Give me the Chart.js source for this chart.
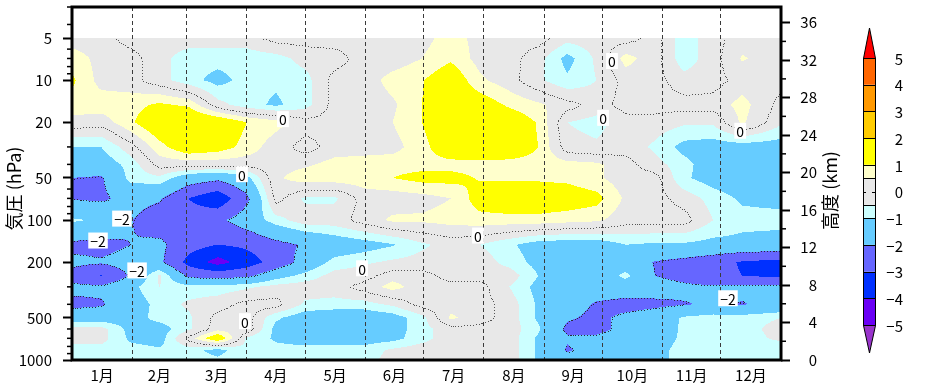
<!DOCTYPE html>
<html>
<head>
<meta charset="utf-8">
<script src="https://cdn.jsdelivr.net/npm/chart.js@4.4.0/dist/chart.umd.min.js"></script>
<style>
html,body{margin:0;padding:0;background:#fff;}
</style>
</head>
<body>
<canvas id="chart" width="933" height="390"></canvas>
<script>
// x axis: day of year, one node every ~half month
const MONTHS = ["1月","2月","3月","4月","5月","6月","7月","8月","9月","10月","11月","12月"]
const MONTH_MID = [15.5,45,74.5,105,135.5,166,196.5,227.5,258,288.5,319,349.5]
const MONTH_EDGE = [31,59,90,120,151,181,212,243,273,304,334]
const DAYS = [0,15,30,45,60,75,90,105,120,135,150,165,180,195,210,225,240,255,270,285,300,315,330,345,365]

// pressure levels (hPa), bottom to top
const PRESSURE = [1000,850,700,600,500,400,300,250,200,150,100,70,50,40,30,20,15,10,7,5]

// anomaly rows, one per pressure level, one value per day node
const p1000 = [-0.6,-0.6,-0.7,-0.8,-0.7,-0.9,-0.6,-0.7,-0.7,-0.7,-0.7,-0.3,-0.2,-0.2,-0.2,-0.2,-1.1,-1.6,-1.5,-1.4,-1.2,-0.8,-0.8,-0.8,-0.8]
const p850 = [-0.7,-0.7,-0.8,-0.9,-0.8,-1.2,-0.6,-0.8,-0.8,-0.8,-0.8,-0.4,-0.2,-0.2,-0.2,-0.2,-1.1,-2.1,-1.6,-1.5,-1.2,-0.8,-0.8,-0.8,-0.8]
const p700 = [-0.3,-0.3,-1.1,-1.3,0.2,1.6,-0.6,-1.1,-1.3,-1.3,-1.3,-1.2,-0.7,-0.2,-0.2,-0.2,-1.1,-1.9,-1.8,-1.5,-1.3,-0.9,-0.8,-0.7,-0.4]
const p600 = [-0.3,-0.3,-1.2,-1.3,-0.6,0.3,0.3,-1.2,-1.4,-1.5,-1.5,-1.3,-0.7,-0.2,-0.2,-0.2,-0.9,-2.2,-2.3,-1.7,-1.4,-0.9,-0.8,-0.7,-0.3]
const p500 = [-1.5,-1.4,-1.3,-0.8,-0.6,0.2,0.2,-0.9,-1.4,-1.5,-1.5,-1.3,-0.7,0.6,0.2,-0.2,-1.1,-1.9,-2.2,-1.8,-1.5,-0.9,-0.7,-0.7,-0.5]
const p400 = [-2.2,-2.1,-1.4,-0.8,-0.4,-0.2,0.2,0.2,-0.6,-0.7,-0.7,-0.4,0.2,0.3,0.2,-0.2,-1.1,-1.6,-2.1,-2.3,-2.2,-2.05,-1.9,-2.05,-1.7]
const p300 = [-1.8,-1.8,-1.2,-0.5,-0.8,-0.8,-0.6,-0.3,-0.2,-0.2,0.2,0.7,0.2,0.2,0.2,-0.5,-1.2,-1.4,-1.5,-1.5,-1.6,-1.8,-1.9,-1.8,-1.7]
const p250 = [-2.3,-3.05,-1.9,-0.4,-2.2,-2.3,-2.2,-1.3,-0.8,-0.3,-0.2,0.3,0.2,-0.2,-0.2,-0.2,-1.0,-1.5,-1.6,-0.8,-2.0,-2.3,-2.7,-3.0,-3.2]
const p200 = [-1.8,-1.9,-1.6,-1.8,-3.3,-4.4,-3.5,-2.6,-1.6,-0.8,-0.6,-0.4,-0.3,-0.2,-0.2,-0.7,-1.2,-1.3,-1.5,-1.5,-2.05,-2.3,-2.6,-3.1,-3.3]
const p150 = [-2.2,-2.3,-2.0,-1.8,-2.6,-3.0,-2.8,-2.3,-1.9,-1.5,-1.3,-1.05,-0.6,-0.3,-0.5,-0.9,-1.3,-1.4,-1.4,-1.0,-1.1,-1.1,-1.2,-1.2,-1.3]
const p100 = [-0.9,-1.1,-1.95,-2.5,-2.6,-2.2,-1.5,-0.7,-0.2,-0.2,0.2,0.6,0.6,0.7,0.8,0.8,0.8,0.7,0.6,0.2,0.2,0.2,-0.5,-0.8,-0.8]
const p70 = [-2.05,-2.15,-1.7,-1.9,-3.0,-3.7,-2.2,0.2,-0.6,-0.6,0.2,0.2,0.3,0.5,1.3,1.5,1.5,1.4,1.2,0.4,0.2,-0.2,-0.7,-1.1,-1.2]
const p50 = [-2.0,-2.1,-0.8,-0.6,-1.5,-1.8,-1.2,0.4,0.8,0.8,0.8,1.0,1.2,1.2,0.95,0.9,0.9,0.85,0.6,0.2,0.2,-0.9,-1.3,-1.5,-1.6]
const p40 = [-1.5,-1.4,-0.8,0.2,0.2,0.2,0.2,0.3,0.4,0.7,0.8,0.8,0.8,0.8,0.8,0.8,0.8,0.7,0.6,0.2,-0.3,-0.8,-1.4,-1.5,-1.5]
const p30 = [-1.0,-1.0,-0.2,0.8,1.5,1.3,0.8,0.2,-0.2,0.2,0.2,0.3,0.8,1.5,1.6,1.5,1.0,-0.3,-0.4,-0.2,-0.6,-1.2,-1.3,-1.3,-1.3]
const p20 = [0.3,0.2,0.9,1.6,1.8,1.6,1.0,0.7,0.2,0.2,0.2,0.5,1.0,1.6,1.7,1.5,0.95,-0.5,-0.7,-0.2,-0.2,-0.4,-0.4,0.6,-0.4]
const p15 = [0.8,0.8,0.8,1.1,0.9,-0.3,-0.8,-1.1,-0.7,0.2,0.2,0.4,1.0,1.5,1.4,0.9,0.6,0.2,-0.2,0.2,0.2,0.2,0.2,0.7,-0.2]
const p10 = [1.1,0.3,0.2,-0.3,-0.8,-1.2,-0.8,-0.9,-0.7,0.2,0.2,0.7,0.95,1.5,0.6,0.2,-0.4,-0.9,-0.5,0.2,0.2,-0.3,-0.2,0.2,0.2]
const p7 = [0.8,0.3,0.2,-0.3,-0.8,-0.8,-0.8,-0.7,-0.3,-0.2,0.2,0.2,0.5,0.9,0.3,0.2,-0.3,-1.2,-0.4,0.7,0.2,-0.8,-0.2,0.55,0.2]
const p5 = [0.2,0.2,-0.2,-0.2,-0.2,-0.2,-0.2,0.2,0.2,0.2,0.2,0.2,0.3,0.75,0.3,0.2,0.2,-0.3,-0.2,-0.2,0.2,-0.8,-0.2,0.3,0.2]

const FIELD = [p1000,p850,p700,p600,p500,p400,p300,p250,p200,p150,p100,p70,p50,p40,p30,p20,p15,p10,p7,p5]

// axis ticks
const P_TICKS = [5,10,20,50,100,200,500,1000]
const P_MINOR = [3,4,6,7,8,9,30,40,60,70,80,90,300,400,600,700,800,900]
const KM_TICKS = [0,4,8,12,16,20,24,28,32,36]
const KM_MINOR = [2,6,10,14,18,22,26,30,34]

// shading classes
const BOUNDS = [-5,-4,-3,-2,-1,-0.5,0.5,1,2,3,4,5]
const COLORS = ["#9933cc","#6a00f5","#0030ff","#6666ff","#66ccff","#ccffff","#e8e8e8","#ffffcc","#ffff00","#ffcc00","#ff9900","#ff6600","#ff0000"]
const CBAR_LABELS = [5,4,3,2,1,0,-1,-2,-3,-4,-5]

// dotted contour lines and their labels
const CONTOUR_LEVELS = [0,-2]
const CONTOUR_COLORS = ["#555555","#2a2a3a"]
const LABEL_DAY = [108.6,87.5,278,273.4,344,209,149.3,89,25.7,13.4,33.5,337.7]
const LABEL_HPA = [19,47,7.3,18.6,23,129,221,528,97.6,140,229,362]
const LABEL_TEXT = ["0","0","0","0","0","0","0","0","−2","−2","−2","−2"]

const FONT = "'Noto Sans CJK JP', 'Noto Sans', sans-serif"
Chart.defaults.font.family = FONT
Chart.defaults.color = "#000"

const RGB = COLORS.map(h => [parseInt(h.slice(1,3),16), parseInt(h.slice(3,5),16), parseInt(h.slice(5,7),16)])

function classOf(v){
let k = 0
while(k < BOUNDS.length && v >= BOUNDS[k]) k++
return k
}

function fieldAt(day, hpa){
let i = 0
while(i < DAYS.length-2 && day > DAYS[i+1]) i++
let tx = (day-DAYS[i])/(DAYS[i+1]-DAYS[i])
tx = Math.min(1, Math.max(0, tx))
let j = 0
while(j < PRESSURE.length-2 && hpa < PRESSURE[j+1]) j++
let ty = Math.log(PRESSURE[j]/hpa)/Math.log(PRESSURE[j]/PRESSURE[j+1])
ty = Math.min(1, Math.max(0, ty))
const r0 = FIELD[j], r1 = FIELD[j+1]
return (r0[i]*(1-tx) + r0[i+1]*tx)*(1-ty) + (r1[i]*(1-tx) + r1[i+1]*tx)*ty
}

function fixSize(w, h){
return s => {
if(w != null) s.width = w
if(h != null) s.height = h
s.paddingTop = 0; s.paddingBottom = 0; s.paddingLeft = 0; s.paddingRight = 0
}
}

const fieldPlugin = {
id: "field",

beforeDraw(chart){
const {ctx, chartArea: a, scales: {x, y}} = chart
const w = Math.round(a.right - a.left), h = Math.round(a.bottom - a.top)
const img = ctx.createImageData(w, h)
const days = []
for(let c = 0; c < w; c++) days.push(x.getValueForPixel(a.left + c + 0.5))
for(let r = 0; r < h; r++){
const p = y.getValueForPixel(a.top + r + 0.5)
if(p < PRESSURE[PRESSURE.length-1]) continue
for(let c = 0; c < w; c++){
const col = RGB[classOf(fieldAt(days[c], Math.min(p, 1000)))]
const k = (r*w + c)*4
img.data[k] = col[0]; img.data[k+1] = col[1]; img.data[k+2] = col[2]; img.data[k+3] = 255
}
}
const off = document.createElement("canvas")
off.width = w; off.height = h
off.getContext("2d").putImageData(img, 0, 0)
ctx.drawImage(off, a.left, a.top)
},

afterDraw(chart){
const {ctx, chartArea: a, scales: {x, y, y2}} = chart
ctx.save()

// dotted contours
const step = 3
const top = y.getPixelForValue(PRESSURE[PRESSURE.length-1])
const xs = [], ys = []
for(let px = a.left; px <= a.right; px += step) xs.push(px)
for(let py = top; py <= a.bottom; py += step) ys.push(py)
const grid = ys.map(py => {
const p = Math.min(1000, y.getValueForPixel(py))
return xs.map(px => fieldAt(x.getValueForPixel(px), p))
})
CONTOUR_LEVELS.forEach((lev, n) => {
ctx.fillStyle = CONTOUR_COLORS[n]
for(let r = 0; r < ys.length-1; r++){
for(let c = 0; c < xs.length-1; c++){
const pts = []
const edge = (va, vb, xa, ya, xb, yb) => {
if((va-lev)*(vb-lev) < 0){
const t = (lev-va)/(vb-va)
pts.push([xa+(xb-xa)*t, ya+(yb-ya)*t])
}
}
edge(grid[r][c], grid[r][c+1], xs[c], ys[r], xs[c+1], ys[r])
edge(grid[r+1][c], grid[r+1][c+1], xs[c], ys[r+1], xs[c+1], ys[r+1])
edge(grid[r][c], grid[r+1][c], xs[c], ys[r], xs[c], ys[r+1])
edge(grid[r][c+1], grid[r+1][c+1], xs[c+1], ys[r], xs[c+1], ys[r+1])
if(pts.length >= 2){
let mx = 0, my = 0
pts.forEach(p => { mx += p[0]; my += p[1] })
ctx.fillRect(Math.round(mx/pts.length), Math.round(my/pts.length), 1, 1)
}
}
}
})

// contour labels
ctx.font = "14px " + FONT
ctx.textAlign = "center"
ctx.textBaseline = "middle"
LABEL_TEXT.forEach((t, i) => {
const px = x.getPixelForValue(LABEL_DAY[i])
const py = y.getPixelForValue(LABEL_HPA[i])
const tw = ctx.measureText(t).width
ctx.fillStyle = "#fff"
ctx.fillRect(px - tw/2 - 2, py - 8, tw + 4, 16)
ctx.fillStyle = "#000"
ctx.fillText(t, px, py + 1)
})

// minor ticks
ctx.strokeStyle = "#000"
ctx.lineWidth = 1.5
P_MINOR.forEach(v => {
const py = y.getPixelForValue(v)
ctx.beginPath(); ctx.moveTo(a.left - 5, py); ctx.lineTo(a.left, py); ctx.stroke()
})
KM_MINOR.forEach(v => {
const py = y2.getPixelForValue(v)
ctx.beginPath(); ctx.moveTo(a.right, py); ctx.lineTo(a.right + 5, py); ctx.stroke()
})

// frame
ctx.lineWidth = 3
ctx.strokeRect(a.left, a.top, a.right - a.left, a.bottom - a.top)

// axis titles
ctx.fillStyle = "#000"
ctx.font = "18px " + FONT
ctx.textAlign = "center"
ctx.textBaseline = "middle"
ctx.save()
ctx.translate(a.left - 58, (a.top + a.bottom)/2 + 5)
ctx.rotate(-Math.PI/2)
ctx.fillText("気圧 (hPa)", 0, 0)
ctx.restore()
ctx.save()
ctx.translate(a.right + 49, (a.top + a.bottom)/2 + 7)
ctx.rotate(-Math.PI/2)
ctx.fillText("高度 (km)", 0, 0)
ctx.restore()

// colour bar
const cbx = a.right + 82, cbw = 12
const cbTop = a.top + 51, cbBot = a.bottom - 35
const vy = v => cbTop + (5 - v)/10*(cbBot - cbTop)
ctx.lineWidth = 1
ctx.strokeStyle = "#000"
for(let k = 0; k < BOUNDS.length-1; k++){
const y0 = vy(BOUNDS[k+1]), y1 = vy(BOUNDS[k])
ctx.fillStyle = COLORS[k+1]
ctx.fillRect(cbx, y0, cbw, y1 - y0)
ctx.strokeRect(cbx + 0.5, Math.round(y0) + 0.5, cbw, Math.round(y1) - Math.round(y0))
}
ctx.fillStyle = COLORS[COLORS.length-1]
ctx.beginPath(); ctx.moveTo(cbx + 0.5, cbTop + 0.5); ctx.lineTo(cbx + cbw + 0.5, cbTop + 0.5); ctx.lineTo(cbx + cbw/2 + 0.5, cbTop - 30); ctx.closePath(); ctx.fill(); ctx.stroke()
ctx.fillStyle = COLORS[0]
ctx.beginPath(); ctx.moveTo(cbx + 0.5, cbBot + 0.5); ctx.lineTo(cbx + cbw + 0.5, cbBot + 0.5); ctx.lineTo(cbx + cbw/2 + 0.5, cbBot + 28); ctx.closePath(); ctx.fill(); ctx.stroke()
ctx.font = "15px " + FONT
ctx.textAlign = "right"
ctx.fillStyle = "#000"
CBAR_LABELS.forEach(v => {
const py = vy(v)
ctx.beginPath()
ctx.moveTo(cbx, Math.round(py) + 0.5); ctx.lineTo(cbx + 3, Math.round(py) + 0.5)
ctx.moveTo(cbx + cbw - 3, Math.round(py) + 0.5); ctx.lineTo(cbx + cbw, Math.round(py) + 0.5)
ctx.stroke()
ctx.fillText(v < 0 ? "−" + Math.abs(v) : String(v), cbx + cbw + 28, py + 1)
})

ctx.restore()
}
}

const ctx = document.getElementById("chart").getContext("2d")

new Chart(ctx, {
type: "scatter",
data: { datasets: [] },
options: {
responsive: false,
animation: false,
events: [],
layout: { padding: { top: 7, right: 116, left: 0, bottom: 0 } },
plugins: { legend: { display: false }, tooltip: { enabled: false } },
scales: {
x: {
type: "linear", min: 0, max: 365, position: "bottom",
afterBuildTicks: s => { s.ticks = MONTH_MID.map(v => ({ value: v })) },
ticks: { callback: (v, i) => MONTHS[i], font: { size: 15 }, padding: 6, maxRotation: 0, autoSkip: false },
grid: { display: false, drawTicks: false },
border: { display: false },
afterFit: fixSize(null, 30)
},
xm: {
type: "linear", min: 0, max: 365, position: "top",
afterBuildTicks: s => { s.ticks = MONTH_EDGE.map(v => ({ value: v })) },
ticks: { display: false },
grid: { color: "#3a3a3a", lineWidth: 1, drawTicks: false },
border: { display: false, dash: [4, 3] },
afterFit: fixSize(null, 0)
},
y: {
type: "logarithmic", min: 3, max: 1000, reverse: true, position: "left",
afterBuildTicks: s => { s.ticks = P_TICKS.map(v => ({ value: v })) },
ticks: { callback: v => String(v), font: { size: 15 }, padding: 11, autoSkip: false },
grid: { drawOnChartArea: false, tickLength: 9, tickWidth: 2, tickColor: "#000" },
border: { display: false },
afterFit: fixSize(72, null)
},
y2: {
type: "linear", min: 0, max: 37.67, position: "right",
afterBuildTicks: s => { s.ticks = KM_TICKS.map(v => ({ value: v })) },
ticks: { font: { size: 15 }, padding: 10, crossAlign: "far", autoSkip: false },
grid: { drawOnChartArea: false, tickLength: 9, tickWidth: 2, tickColor: "#000" },
border: { display: false },
afterFit: fixSize(36, null)
}
}
},
plugins: [fieldPlugin]
})
</script>
</body>
</html>
